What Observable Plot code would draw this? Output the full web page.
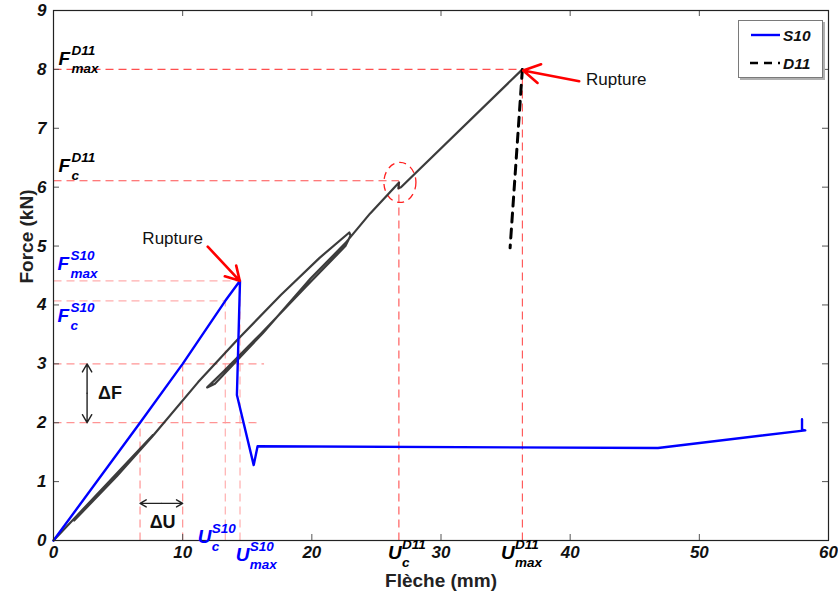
<!DOCTYPE html>
<html><head><meta charset="utf-8">
<script src="https://cdn.jsdelivr.net/npm/d3@7"></script>
<script src="https://cdn.jsdelivr.net/npm/@observablehq/plot@0.6"></script>
<style>
body{margin:0;background:#fff;}
#wrap{position:relative;width:838px;height:599px;font-family:"Liberation Sans",Arial,sans-serif;}
#legend{position:absolute;left:738px;top:20px;width:83px;height:56px;border:1px solid #7a7a7a;background:#fff;box-shadow:2px 2px 0 #b0b0b0;}
</style></head><body><div id="wrap"><div id="legend"></div></div>
<script>
// ---------- data ----------
const xTicks = [0, 10, 20, 30, 40, 50, 60];
const yTicks = [0, 1, 2, 3, 4, 5, 6, 7, 8, 9];

// S10 (blue)
const s10X = [0, 6.7, 10.0, 13.3, 14.44, 14.2, 15.5, 15.8, 46.8, 58.2, 57.95, 57.95];
const s10Y = [0, 2.0, 3.0, 4.07, 4.41, 2.47, 1.28, 1.6, 1.57, 1.87, 1.88, 2.06];

// D11 (black) loading with unloading/reloading cycles
const d11X = [0, 4.0, 7.7, 4.6, 1.6, 4.9, 7.7, 11.2, 14.2, 17.6, 20.6, 22.9, 23.0, 22.6, 19.5, 16.0, 13.2, 11.9, 12.5, 16.2, 19.9, 22.6, 24.5, 26.75, 26.7, 26.9, 36.3];
const d11Y = [0, 0.93, 1.79, 1.05, 0.34, 1.09, 1.78, 2.69, 3.4, 4.17, 4.8, 5.23, 5.18, 5.0, 4.3, 3.5, 2.88, 2.6, 2.66, 3.52, 4.45, 5.05, 5.55, 6.08, 5.98, 6.0, 8.0];
// D11 post-rupture (dashed)
const d11TailX = [36.3, 35.35];
const d11TailY = [8.0, 4.97];

// reference (dashed red) segments
const refX1 = [0, 36.3, 0, 26.74, 0, 14.44, 0, 13.3, 0, 10.0, 0, 6.7];
const refY1 = [8.0, 0, 6.11, 0, 4.41, 0, 4.07, 0, 3.0, 0, 2.0, 0];
const refX2 = [36.3, 36.3, 26.74, 26.74, 14.44, 14.44, 13.3, 13.3, 16.3, 10.0, 15.9, 6.7];
const refY2 = [8.0, 8.0, 6.11, 6.11, 4.41, 4.41, 4.07, 4.07, 3.0, 3.0, 2.0, 2.0];
const refKind = ["D11","D11","D11","D11","S10","S10","S10","S10","delta","delta","delta","delta"];

// annotation labels (F and U with super/subscripts)
const annoX = [0.39, 0.39, 0.31, 0.31, 11.16, 14.1, 25.9, 34.65];
const annoY = [8.07, 6.26, 4.6, 3.71, -0.034, -0.34, -0.31, -0.31];
const annoBase = ["F","F","F","F","U","U","U","U"];
const annoSup = ["D11","D11","S10","S10","S10","S10","D11","D11"];
const annoSub = ["max","c","max","c","c","max","c","max"];

// Rupture annotations
const rupX1 = [11.94, 40.7];
const rupY1 = [4.99, 7.8];
const rupX2 = [14.42, 36.36];
const rupY2 = [4.41, 7.98];
const rupTextX = [9.22, 43.57];
const rupTextY = [5.12, 7.83];

// Delta arrows (double-headed, drawn as two halves)
const deltaX1 = [2.6, 2.6, 8.35, 8.35];
const deltaY1 = [2.5, 2.5, 0.63, 0.63];
const deltaX2 = [2.6, 2.6, 6.7, 10.0];
const deltaY2 = [3.0, 2.0, 0.63, 0.63];
const deltaLabel = ["\u0394F", "\u0394U"];
const deltaLabelX = [4.38, 8.45];
const deltaLabelY = [2.5, 0.31];

// circled notch
const ellipseX = [26.82];
const ellipseY = [6.08];

// ---------- build ----------
const pts = (X, Y) => X.map((x, i) => ({x, y: Y[i]}));
const refs = refX1.map((x1, i) => ({x1, y1: refY1[i], x2: refX2[i], y2: refY2[i], kind: refKind[i]}));
const seriesColor = {S10: "#0000ff", D11: "#000000"};
const annos = annoX.map((x, i) => ({x, y: annoY[i], base: annoBase[i], sup: annoSup[i], sub: annoSub[i], color: seriesColor[annoSup[i]]}));
const annosF = annos.filter(d => d.base === "F");
const annosU = annos.filter(d => d.base === "U");
const rups = rupX1.map((x1, i) => ({x1, y1: rupY1[i], x2: rupX2[i], y2: rupY2[i], tx: rupTextX[i], ty: rupTextY[i]}));
const deltas = deltaX1.map((x1, i) => ({x1, y1: deltaY1[i], x2: deltaX2[i], y2: deltaY2[i]}));
const deltaTexts = deltaLabel.map((t, i) => ({t, x: deltaLabelX[i], y: deltaLabelY[i]}));

const ellipseSymbol = {
  draw(ctx) {
    const rx = 16, ry = 20, kx = rx * 0.5523, ky = ry * 0.5523;
    ctx.moveTo(rx, 0);
    ctx.bezierCurveTo(rx, ky, kx, ry, 0, ry);
    ctx.bezierCurveTo(-kx, ry, -rx, ky, -rx, 0);
    ctx.bezierCurveTo(-rx, -ky, -kx, -ry, 0, -ry);
    ctx.bezierCurveTo(kx, -ry, rx, -ky, rx, 0);
    ctx.closePath();
  }
};

const FONT = "Liberation Sans, Arial, sans-serif";
const dash = "8,5";
const innerW = 838 - 53 - 10, innerH = 599 - 10 - 59;
const labelStyle = {fill: "color", textAnchor: "start", lineAnchor: "bottom", fontWeight: "bold", fontStyle: "italic"};
const labelMarks = (data, gap) => [
  Plot.text(data, {x: "x", y: "y", text: "base", ...labelStyle, fontSize: 19}),
  Plot.text(data, {x: "x", y: "y", text: "sup", ...labelStyle, dx: gap, dy: -10, fontSize: 13.5}),
  Plot.text(data, {x: "x", y: "y", text: "sub", ...labelStyle, dx: gap, dy: 8, fontSize: 13.5})
];

const chart = Plot.plot({
  width: 838, height: 599,
  marginLeft: 53, marginRight: 10, marginTop: 10, marginBottom: 59,
  x: {domain: [0, 60], axis: null},
  y: {domain: [0, 9], axis: null},
  color: {type: "identity"},
  style: {fontFamily: FONT, background: "#fff", overflow: "visible"},
  marks: [
    // reference lines
    Plot.link(refs.filter(d => d.kind === "delta"), {x1: "x1", y1: "y1", x2: "x2", y2: "y2", stroke: "#ff7070", strokeOpacity: 0.75, strokeWidth: 1.2, strokeDasharray: dash}),
    Plot.link(refs.filter(d => d.kind === "S10"), {x1: "x1", y1: "y1", x2: "x2", y2: "y2", stroke: "#ff9a9a", strokeOpacity: 0.8, strokeWidth: 1.2, strokeDasharray: dash}),
    Plot.link(refs.filter(d => d.kind === "D11"), {x1: "x1", y1: "y1", x2: "x2", y2: "y2", stroke: "#ff3030", strokeOpacity: 0.85, strokeWidth: 1.1, strokeDasharray: dash}),
    Plot.dot(pts(ellipseX, ellipseY), {x: "x", y: "y", symbol: ellipseSymbol, fill: "none", stroke: "#ff2020", strokeWidth: 1.3, strokeDasharray: "7,5"}),
    // ticks (inward)
    Plot.tickX(xTicks, {x: d => d, stroke: "#555", insetTop: innerH - 6}),
    Plot.tickX(xTicks, {x: d => d, stroke: "#555", insetBottom: innerH - 6}),
    Plot.tickY(yTicks, {y: d => d, stroke: "#555", insetRight: innerW - 6}),
    Plot.tickY(yTicks, {y: d => d, stroke: "#555", insetLeft: innerW - 6}),
    // series
    Plot.line(pts(d11X, d11Y), {x: "x", y: "y", stroke: "#1a1a1a", strokeWidth: 2.2, strokeOpacity: 0.85}),
    Plot.line(pts(d11TailX, d11TailY), {x: "x", y: "y", stroke: "#000", strokeWidth: 3, strokeDasharray: "9,7"}),
    Plot.line(pts(s10X, s10Y), {x: "x", y: "y", stroke: "#0000ff", strokeWidth: 2.4}),
    // frame
    Plot.frame({stroke: "#222", strokeWidth: 1.2}),
    // tick labels
    Plot.text(xTicks, {x: d => d, frameAnchor: "bottom", dy: 17, text: d => String(d), fontSize: 17, fontWeight: "bold", fontStyle: "italic", fill: "#111"}),
    Plot.text(yTicks, {y: d => d, frameAnchor: "left", dx: -7, textAnchor: "end", text: d => String(d), fontSize: 17, fontWeight: "bold", fontStyle: "italic", fill: "#111"}),
    // axis titles
    Plot.text(["Fl\u00e8che (mm)"], {frameAnchor: "bottom", dy: 46, text: d => d, fontSize: 19, fontWeight: "bold", fill: "#222"}),
    Plot.text(["Force (kN)"], {frameAnchor: "left", dx: -27, dy: 8, rotate: -90, text: d => d, fontSize: 19, fontWeight: "bold", fill: "#222"}),
    // annotation labels
    ...labelMarks(annosF, 13),
    ...labelMarks(annosU, 14),
    // rupture
    Plot.arrow(rups, {x1: "x1", y1: "y1", x2: "x2", y2: "y2", stroke: "#ff0000", strokeWidth: 2.6, headLength: 13}),
    Plot.text(rups, {x: "tx", y: "ty", text: () => "Rupture", fontSize: 17, fill: "#111"}),
    // delta arrows
    Plot.arrow(deltas, {x1: "x1", y1: "y1", x2: "x2", y2: "y2", stroke: "#222", strokeWidth: 1.4, headLength: 10}),
    Plot.text(deltaTexts, {x: "x", y: "y", text: "t", fontSize: 18, fontWeight: "bold", fill: "#111"})
  ]
});
const wrap = document.getElementById("wrap");
wrap.insertBefore(chart, wrap.firstChild);
chart.style.position = "absolute";
chart.style.left = "0"; chart.style.top = "0";

// legend
document.getElementById("legend").innerHTML = `
<svg width="83" height="56" style="font-family:${FONT}">
  <line x1="12" y1="14" x2="41" y2="14" stroke="#0000ff" stroke-width="2.4"/>
  <text x="44" y="20" font-size="15.5" font-weight="bold" font-style="italic" fill="#111">S10</text>
  <line x1="11" y1="42" x2="41" y2="42" stroke="#000" stroke-width="2.4" stroke-dasharray="8,6"/>
  <text x="44" y="48" font-size="15.5" font-weight="bold" font-style="italic" fill="#111">D11</text>
</svg>`;
</script>
</body></html>
